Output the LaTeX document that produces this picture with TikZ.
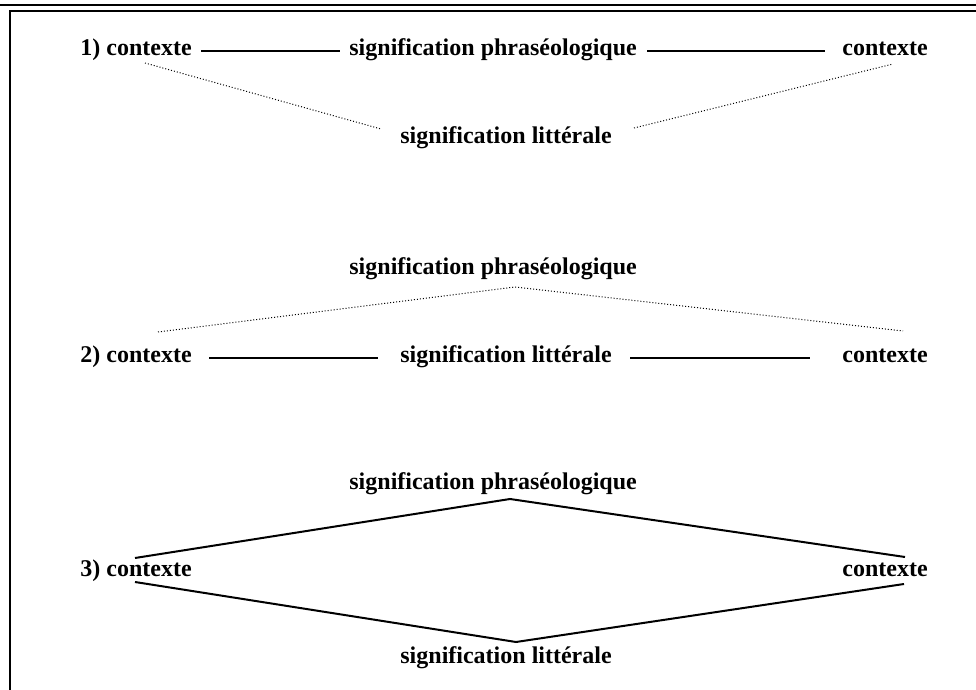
\documentclass[tikz,border=0pt]{standalone}
\usepackage{fontspec}
\setmainfont{Liberation Serif}
\usetikzlibrary{positioning}
\tikzset{
    label/.style={inner sep=0pt,anchor=base west,font=\fontsize{12}{14}\selectfont\bfseries},
    link/.style={line width=1pt,black},
    weak/.style={line width=0.5pt,black,dash pattern=on 0.5pt off 1pt},
    frame/.style={line width=1.2pt,black}
}
\begin{document}
\begin{tikzpicture}[x=0.5pt,y=-0.5pt]
    \useasboundingbox (0,0) rectangle (976,690);
    % Frame
    \draw[line width=0.7pt] (0,5) -- (976,5);
    \draw[frame] (10,690) -- (10,11) -- (976,11);
    % 1) row
    \node[label] at (80,56) (ctxA) {1) contexte};
    \node[label] at (349,56) (phrA) {signification phraséologique};
    \node[label] at (842,56) (ctxB) {contexte};
    \node[label] at (400,144) (litA) {signification littérale};
    \coordinate (dA1) at (145,63);
    \coordinate (dA2) at (381,129);
    \coordinate (dA3) at (634,128);
    \coordinate (dA4) at (893,64);
    \draw[link,shorten <=4.5pt,shorten >=4.5pt] ([yshift=2.5pt]ctxA.base east) -- ([yshift=2.5pt]phrA.base west);
    \draw[link,shorten <=5pt,shorten >=8.5pt] ([yshift=2.5pt]phrA.base east) -- ([yshift=2.5pt]ctxB.base west);
    \draw[weak] (dA1) -- (dA2);
    \draw[weak] (dA3) -- (dA4);
    % 2) row
    \node[label] at (349,275) (phrB) {signification phraséologique};
    \node[label] at (80,363) (ctxC) {2) contexte};
    \node[label] at (400,363) (litB) {signification littérale};
    \node[label] at (842,363) (ctxD) {contexte};
    \coordinate (dB) at (515,287);
    \draw[weak] (158,332) coordinate (dB1) -- (dB) -- (903,331) coordinate (dB2);
    \draw[link,shorten <=8.5pt,shorten >=11pt] ([yshift=2.5pt]ctxC.base east) -- ([yshift=2.5pt]litB.base west);
    \draw[link,shorten <=9pt,shorten >=16pt] ([yshift=2.5pt]litB.base east) -- ([yshift=2.5pt]ctxD.base west);
    % 3) row
    \node[label] at (349,489) (phrC) {signification phraséologique};
    \node[label] at (80,576) (ctxE) {3) contexte};
    \node[label] at (842,576) (ctxF) {contexte};
    \node[label] at (400,663) (litC) {signification littérale};
    \coordinate (up) at (510,499);
    \coordinate (down) at (516,642);
    \coordinate (eL1) at (135,558);
    \coordinate (eR1) at (905,557);
    \coordinate (eL2) at (135,582);
    \coordinate (eR2) at (904,584);
    \draw[link] (eL1) -- (up) -- (eR1);
    \draw[link] (eL2) -- (down) -- (eR2);
\end{tikzpicture}
\end{document}
